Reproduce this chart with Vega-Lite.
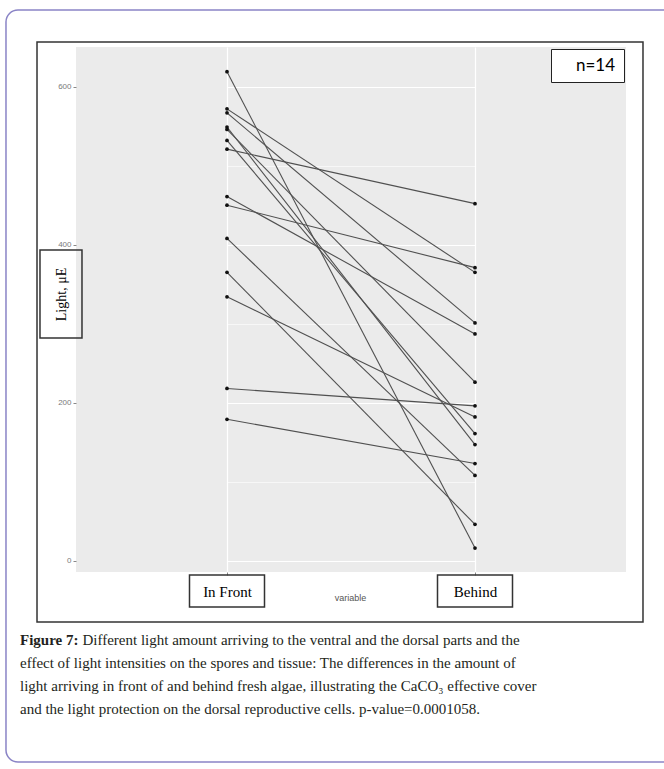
{
  "$schema": "https://vega.github.io/schema/vega-lite/v6.json",
  "width": 550,
  "height": 525,
  "autosize": {"type": "none"},
  "padding": {"left": 76, "top": 47, "right": 38, "bottom": 197},
  "background": "white",
  "config": {"view": {"fill": "#ebebeb", "stroke": null}},
  "datasets": {
    "light": [
      {"id": 1, "variable": "In Front", "value": 619}, {"id": 1, "variable": "Behind", "value": 16},
      {"id": 2, "variable": "In Front", "value": 572}, {"id": 2, "variable": "Behind", "value": 365},
      {"id": 3, "variable": "In Front", "value": 567}, {"id": 3, "variable": "Behind", "value": 301},
      {"id": 4, "variable": "In Front", "value": 549}, {"id": 4, "variable": "Behind", "value": 147},
      {"id": 5, "variable": "In Front", "value": 546}, {"id": 5, "variable": "Behind", "value": 226},
      {"id": 6, "variable": "In Front", "value": 532}, {"id": 6, "variable": "Behind", "value": 161},
      {"id": 7, "variable": "In Front", "value": 521}, {"id": 7, "variable": "Behind", "value": 452},
      {"id": 8, "variable": "In Front", "value": 461}, {"id": 8, "variable": "Behind", "value": 287},
      {"id": 9, "variable": "In Front", "value": 450}, {"id": 9, "variable": "Behind", "value": 371},
      {"id": 10, "variable": "In Front", "value": 408}, {"id": 10, "variable": "Behind", "value": 108},
      {"id": 11, "variable": "In Front", "value": 365}, {"id": 11, "variable": "Behind", "value": 46},
      {"id": 12, "variable": "In Front", "value": 334}, {"id": 12, "variable": "Behind", "value": 182},
      {"id": 13, "variable": "In Front", "value": 218}, {"id": 13, "variable": "Behind", "value": 196},
      {"id": 14, "variable": "In Front", "value": 179}, {"id": 14, "variable": "Behind", "value": 123}
    ],
    "one": [{}],
    "cats": [{"variable": "In Front"}, {"variable": "Behind"}]
  },
  "resolve": {"scale": {"x": "independent", "y": "independent"}},
  "layer": [
    {
      "data": {"name": "one"},
      "layer": [
        {
          "mark": {"type": "rect", "filled": false, "stroke": "#8a84c6", "strokeWidth": 1.5, "cornerRadius": 12},
          "encoding": {
            "x": {"datum": -0.1273, "type": "quantitative", "scale": {"domain": [0, 1]}, "axis": null},
            "x2": {"datum": 1.25},
            "y": {"datum": 1.0705, "type": "quantitative", "scale": {"domain": [0, 1]}, "axis": null},
            "y2": {"datum": -0.3619}
          }
        },
        {
          "mark": {"type": "rect", "filled": false, "stroke": "#333333", "strokeWidth": 1.5},
          "encoding": {
            "x": {"datum": -0.0709, "type": "quantitative", "axis": null},
            "x2": {"datum": 1.0309},
            "y": {"datum": 1.0095, "type": "quantitative", "axis": null},
            "y2": {"datum": -0.0952}
          }
        },
        {
          "mark": {"type": "point", "shape": "M-1,-2.095H1V2.095H-1Z", "size": 1764, "filled": false, "stroke": "#333333", "strokeWidth": 1.5, "opacity": 1},
          "encoding": {
            "x": {"datum": -0.0273, "type": "quantitative", "axis": null},
            "y": {"datum": 0.5295, "type": "quantitative", "axis": null}
          }
        },
        {
          "mark": {"type": "text", "text": "Figure 7:", "font": "Liberation Serif", "fontSize": 15, "fontWeight": "bold", "align": "left", "baseline": "alphabetic", "color": "#231f20"},
          "encoding": {
            "x": {"datum": -0.1018, "type": "quantitative", "axis": null},
            "y": {"datum": -0.139, "type": "quantitative", "axis": null}
          }
        },
        {
          "mark": {"type": "text", "text": "Different light amount arriving to the ventral and the dorsal parts and the", "font": "Liberation Serif", "fontSize": 15, "align": "left", "baseline": "alphabetic", "color": "#231f20"},
          "encoding": {
            "x": {"datum": 0.0118, "type": "quantitative", "axis": null},
            "y": {"datum": -0.139, "type": "quantitative", "axis": null}
          }
        },
        {
          "mark": {"type": "text", "text": ["effect of light intensities on the spores and tissue: The differences in the amount of", "light arriving in front of and behind fresh algae, illustrating the CaCO₃ effective cover", "and the light protection on the dorsal reproductive cells. p-value=0.0001058."], "lineHeight": 23, "font": "Liberation Serif", "fontSize": 15, "align": "left", "baseline": "alphabetic", "color": "#231f20"},
          "encoding": {
            "x": {"datum": -0.1018, "type": "quantitative", "axis": null},
            "y": {"datum": -0.1829, "type": "quantitative", "axis": null}
          }
        }
      ]
    },
    {
      "data": {"name": "light"},
      "layer": [
        {
          "mark": {"type": "line", "color": "#505050", "strokeWidth": 1.1},
          "encoding": {
            "x": {
              "field": "variable", "type": "nominal", "sort": ["In Front", "Behind"],
              "scale": {"type": "point", "range": [151, 399], "padding": 0},
              "axis": {
                "title": "variable", "labelAngle": 0, "labelFont": "Liberation Serif", "labelFontSize": 15, "labelColor": "black",
                "labelPadding": 16, "labelBaseline": "middle", "tickSize": 3, "tickColor": "#888888", "domain": false,
                "grid": true, "gridColor": "white", "gridWidth": 1.2,
                "titleFont": "Liberation Sans", "titleFontSize": 9, "titleFontWeight": "normal", "titleColor": "#555555",
                "titleX": 274, "titleY": 25, "titleBaseline": "middle", "titleAlign": "center"
              }
            },
            "y": {
              "field": "value", "type": "quantitative",
              "scale": {"domain": [-14.3, 650.3], "nice": false, "zero": false},
              "axis": {
                "values": [0, 100, 200, 300, 400, 500, 600],
                "labelExpr": "datum.value % 200 === 0 ? datum.label : ''",
                "labelFont": "Liberation Sans", "labelFontSize": 8, "labelColor": "#7a7a7a", "labelPadding": 2,
                "tickSize": 3,
                "tickColor": {"condition": {"test": "datum.value % 200 === 0", "value": "#888888"}, "value": "transparent"},
                "domain": false, "grid": true, "gridColor": "white",
                "gridWidth": {"condition": {"test": "datum.value % 200 === 0", "value": 1.2}, "value": 0.6},
                "title": "Light, μE", "titleFont": "Liberation Serif", "titleFontSize": 14, "titleFontWeight": "normal",
                "titleColor": "black", "titleX": -15, "titleY": 247, "titleAngle": -90, "titleBaseline": "middle", "titleAlign": "center"
              }
            },
            "detail": {"field": "id", "type": "nominal"}
          }
        },
        {
          "mark": {"type": "point", "filled": true, "size": 14, "opacity": 1},
          "encoding": {
            "x": {"field": "variable", "type": "nominal", "sort": ["In Front", "Behind"]},
            "y": {"field": "value", "type": "quantitative"},
            "color": {
              "datum": "n=14",
              "scale": {"range": ["#111111"]},
              "legend": {
                "title": null, "orient": "top-right", "offset": 2, "padding": 8,
                "strokeColor": "#222222", "fillColor": "white",
                "symbolSize": 0, "symbolOpacity": 0, "symbolStrokeWidth": 0,
                "labelFont": "Lato", "labelFontSize": 17, "labelColor": "black", "labelOffset": 0
              }
            }
          }
        },
        {
          "data": {"name": "cats"},
          "mark": {"type": "point", "shape": "M-1,-0.427H1V0.427H-1Z", "size": 5625, "filled": false, "stroke": "#333333", "strokeWidth": 1.5, "opacity": 1},
          "encoding": {
            "x": {"field": "variable", "type": "nominal", "sort": ["In Front", "Behind"]},
            "y": {"datum": -38.4}
          }
        }
      ]
    }
  ]
}
